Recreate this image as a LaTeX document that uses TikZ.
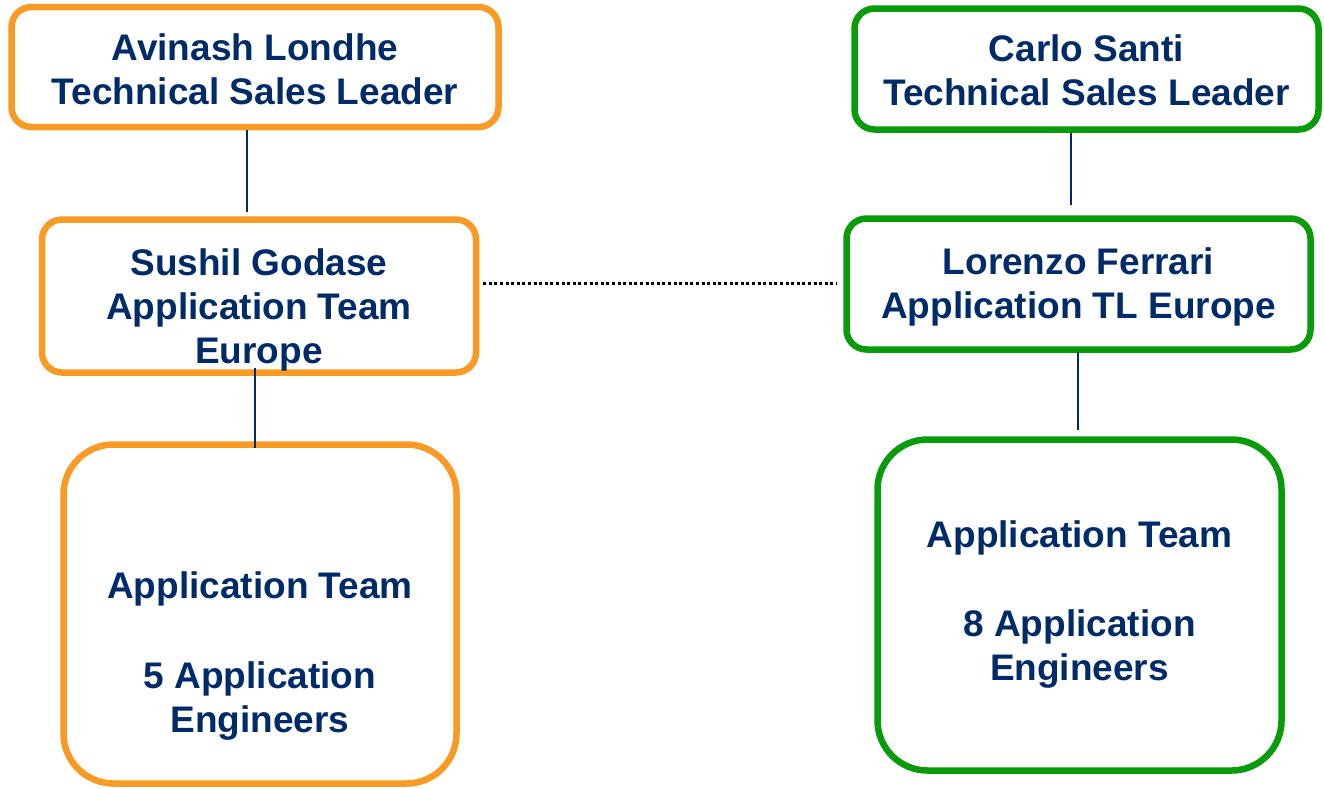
\documentclass[tikz,border=0pt]{standalone}
\usepackage{fontspec}
\setmainfont{Liberation Sans}
\definecolor{orangeb}{HTML}{F89A24}
\definecolor{greenb}{HTML}{089C0A}
\definecolor{navy}{HTML}{002B6B}
\begin{document}
\begin{tikzpicture}[x=1pt,y=-1pt,
  box/.style={draw, line width=6.5pt, fill=white, rounded corners=#1, inner sep=0pt},
  obox/.style={box=#1, draw=orangeb},
  gbox/.style={box=#1, draw=greenb},
  txt/.style={text=navy, font=\fontsize{37}{44}\selectfont\bfseries, align=center, inner sep=0pt},
  conn/.style={draw=navy, line width=1.6pt},
  dotline/.style={draw=black, line width=3pt, dash pattern=on 3pt off 2.6pt}]
\useasboundingbox (0,0) rectangle (1324,788);
% boxes
\node[obox=20pt, minimum width=487pt, minimum height=120pt] (avinash) at (255,67) {};
\node[gbox=20pt, minimum width=464pt, minimum height=121pt] (carlo) at (1086.5,69) {};
\node[obox=20pt, minimum width=434pt, minimum height=153pt] (sushil) at (259,296) {};
\node[gbox=20pt, minimum width=464pt, minimum height=131pt] (lorenzo) at (1078.5,284) {};
\node[obox=50pt, minimum width=393pt, minimum height=339pt] (teamL) at (260,614) {};
\node[gbox=50pt, minimum width=404pt, minimum height=331pt] (teamR) at (1079.5,605) {};
% connectors
\draw[conn] ([xshift=-8pt]avinash.south) -- ([xshift=-12pt,yshift=4.5pt]sushil.north);
\draw[conn] ([xshift=-15.5pt]carlo.south) -- ([xshift=-7.5pt,yshift=10pt]lorenzo.north);
\draw[conn] ([xshift=-4pt,yshift=8pt]sushil.south) -- ([xshift=-5pt,yshift=-7pt]teamL.north);
\draw[conn] ([xshift=-0.5pt,yshift=1pt]lorenzo.south) -- ([xshift=-1.5pt,yshift=6.5pt]teamR.north);
\draw[dotline] ([xshift=4pt,yshift=13pt]sushil.east) -- ([xshift=-7pt,yshift=1pt]lorenzo.west);
% texts
\node[txt] (tavinash) at (avinash.center) [yshift=-2pt] {Avinash Londhe\\Technical Sales Leader};
\node[txt] (tcarlo) at (carlo.center) [yshift=-1.5pt] {Carlo Santi\\Technical Sales Leader};
\node[txt] (tsushil) at (sushil.center) [yshift=-14pt] {Sushil Godase\\Application Team\\Europe};
\node[txt] (tlorenzo) at (lorenzo.center) [yshift=-2.5pt] {Lorenzo Ferrari\\Application TL Europe};
\node[txt] (tteamL) at (teamL.center) [yshift=-42pt] {Application Team\\[46pt]5 Application\\Engineers};
\node[txt] (tteamR) at (teamR.center) [yshift=0pt] {Application Team\\[45pt]8 Application\\Engineers};
\end{tikzpicture}
\end{document}
